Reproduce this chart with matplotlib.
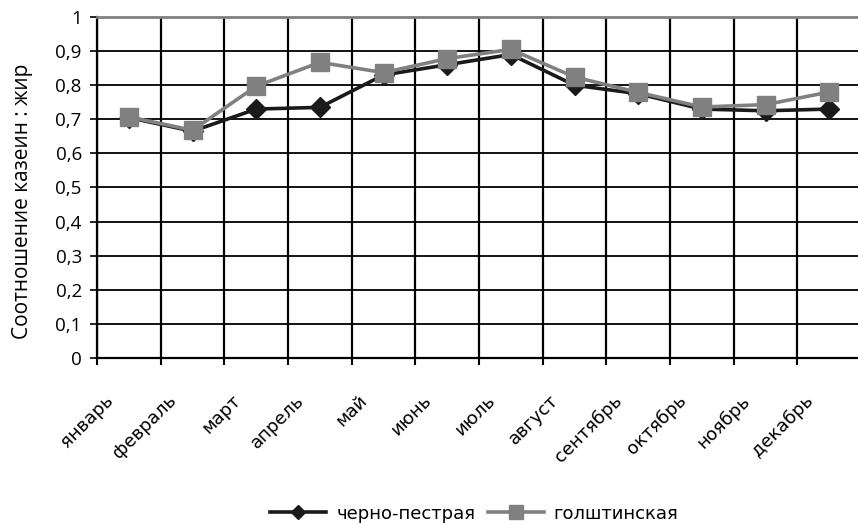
import numpy as np
import matplotlib
matplotlib.use("Agg")
import matplotlib.pyplot as plt
import matplotlib.transforms as mtransforms

months = ["январь", "февраль", "март", "апрель", "май", "июнь",
          "июль", "август", "сентябрь", "октябрь", "ноябрь", "декабрь"]
cherno_pestraya = [0.705, 0.665, 0.73, 0.735, 0.83, 0.86,
                   0.89, 0.80, 0.775, 0.73, 0.725, 0.73]
golshtinskaya = [0.707, 0.668, 0.797, 0.867, 0.837, 0.878,
                 0.905, 0.824, 0.779, 0.736, 0.743, 0.78]
yticks = [0, 0.1, 0.2, 0.3, 0.4, 0.5, 0.6, 0.7, 0.8, 0.9, 1]
ytick_labels = ["0", "0,1", "0,2", "0,3", "0,4", "0,5", "0,6",
                "0,7", "0,8", "0,9", "1"]

fig = plt.figure(figsize=(8.58, 5.23), dpi=100)
ax = fig.add_axes([0.1131, 0.3155, 0.8904, 0.652])

x = np.arange(len(months))
ax.plot(x, cherno_pestraya, color="#1a1a1a", lw=2.6, marker="D",
        markersize=10, label="черно-пестрая", zorder=3)
ax.plot(x, golshtinskaya, color="#808080", lw=2.6, marker="s",
        markersize=13.5, label="голштинская", zorder=4)

ax.set_xlim(-0.5, len(months) - 0.5)
ax.set_ylim(0, 1)

# horizontal grid on major y ticks, vertical grid on category boundaries
ax.set_yticks(yticks)
ax.set_yticklabels(ytick_labels, fontsize=13.5, family="Open Sans")
ax.tick_params(axis="y", length=5, width=1.2, direction="out", pad=6)
ax.grid(axis="y", color="black", lw=1.3)

ax.set_xticks(x)
ax.set_xticklabels(months, fontsize=13, rotation=45, ha="right",
                   va="top", rotation_mode="anchor", family="DejaVu Sans")
ax.tick_params(axis="x", which="major", length=0, pad=24)
ax.set_xticks(np.arange(-0.5, len(months), 1), minor=True)
ax.tick_params(axis="x", which="minor", length=5, width=1.5, direction="out")
ax.grid(axis="x", which="minor", color="black", lw=1.6)
ax.set_axisbelow(True)

offset = mtransforms.ScaledTranslation(-25 / 100, 0, fig.dpi_scale_trans)
for lbl in ax.get_xticklabels():
    lbl.set_transform(lbl.get_transform() + offset)

for side in ("left", "bottom"):
    ax.spines[side].set_color("black")
    ax.spines[side].set_linewidth(1.6)
ax.spines["top"].set_color("#808080")
ax.spines["top"].set_linewidth(2)
ax.spines["right"].set_visible(False)

fig.text(23 / 858, 1 - 201 / 523, "Соотношение казеин : жир", rotation=90,
         ha="center", va="center", fontsize=15, family="Open Sans")

fig.legend(loc="center", bbox_to_anchor=(0.553, 0.018), ncol=2,
           frameon=False, handlelength=3.1, columnspacing=0.7,
           handletextpad=0.55, markerscale=0.75,
           prop={"family": "DejaVu Sans", "size": 13})

fig.savefig("out.png", dpi=100, facecolor="white")
